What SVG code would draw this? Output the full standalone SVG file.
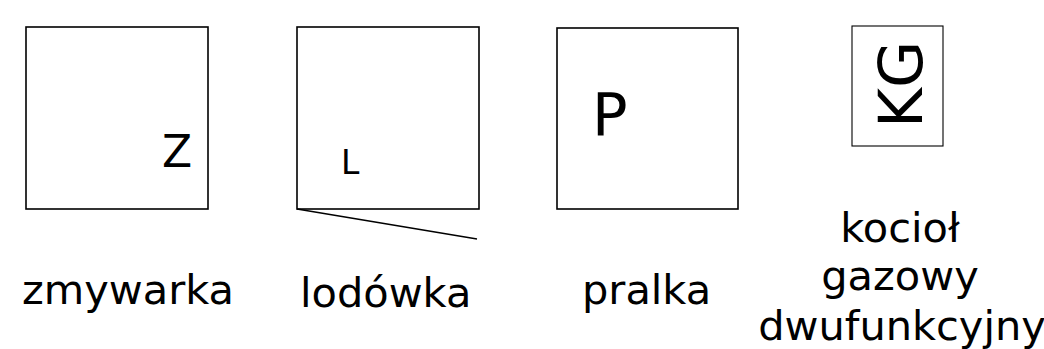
<svg xmlns="http://www.w3.org/2000/svg" width="1044" height="349" viewBox="0 0 1044 349">
<style>
.box{fill:#fff;stroke:#000;stroke-width:1.6}
.thin{fill:#fff;stroke:#000;stroke-width:1.1}
text{font-family:"DejaVu Sans",Verdana,sans-serif;fill:#000}
.lbl{font-size:41.5px}
</style>
<rect width="1044" height="349" fill="#fff"/>
<g id="zmywarka">
<rect class="box" x="26" y="27" width="182" height="182"/>
<text x="162" y="167" font-size="44">Z</text>
<text class="lbl" x="22" y="304">zmywarka</text>
</g>
<g id="lodowka">
<rect class="box" x="297" y="27" width="182" height="182"/>
<text x="341" y="174" font-size="33">L</text>
<text class="lbl" x="300" y="307">lodówka</text>
</g>
<g id="pralka">
<rect class="box" x="557" y="28" width="181" height="181"/>
<text x="592" y="135" font-size="59">P</text>
<text class="lbl" x="582" y="304">pralka</text>
</g>
<g id="kociol">
<rect class="thin" x="852" y="26" width="91" height="120"/>
<text transform="translate(922,128) rotate(-90)" font-size="61">KG</text>
<text class="lbl" x="900" y="242" text-anchor="middle">kocioł</text>
<text class="lbl" x="900" y="290" text-anchor="middle">gazowy</text>
<text class="lbl" x="902" y="340" text-anchor="middle">dwufunkcyjny</text>
</g>
<g id="connectors">
<line x1="297" y1="209" x2="477" y2="239" stroke="#000" stroke-width="1.6"/>
</g>
</svg>
